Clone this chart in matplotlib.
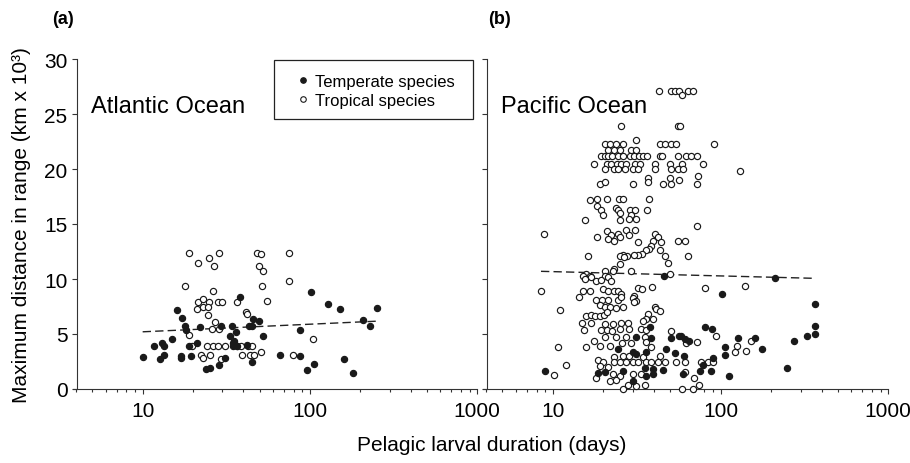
import numpy as np
import matplotlib
matplotlib.use("Agg")
import matplotlib.pyplot as plt
from matplotlib.ticker import LogLocator, NullFormatter, FixedLocator
from matplotlib.lines import Line2D
from matplotlib.patches import Rectangle

plt.rcParams['font.family'] = ['Liberation Sans', 'DejaVu Sans']

# atlantic, tropical species (open circles): pelagic larval duration (days), range (km x 10^3)
atl_trop_pld = [18.9, 21.3, 24.9, 26.7, 28.6, 48.0, 50.9, 49.8, 52.4, 51.6, 75.2, 75.2, 17.8, 26.2,
                21.3, 23.0, 24.9, 28.3, 29.9, 21.2, 23.0, 24.6, 24.6, 36.7, 55.6, 41.3, 42.1, 27.0,
                26.0, 28.6, 18.8, 19.8, 24.3, 26.2, 28.3, 30.9, 36.7, 38.5, 42.8, 44.8, 22.2, 25.3,
                22.8, 29.2, 39.5, 43.8, 46.5, 50.9, 78.8, 103.7]
atl_trop_range = [12.4, 11.5, 11.9, 11.2, 12.4, 12.4, 12.3, 11.2, 10.7, 9.4, 12.4, 9.8, 9.4, 8.9,
                  7.9, 8.2, 7.9, 7.9, 7.9, 7.3, 7.5, 7.5, 6.7, 7.9, 8.0, 7.0, 6.8, 6.1,
                  5.5, 5.5, 4.9, 3.9, 3.9, 3.9, 3.9, 3.9, 3.9, 3.9, 3.9, 3.9, 3.1, 3.1,
                  2.8, 2.7, 3.1, 3.1, 3.1, 3.4, 3.1, 4.55]

# atlantic, temperate species (filled circles)
atl_temp_pld = [10.0, 11.7, 13.1, 13.5, 15.0, 12.7, 13.5, 16.1, 17.1, 17.9, 18.2, 17.0, 17.0, 19.5,
                18.9, 21.0, 22.1, 23.9, 25.2, 28.4, 31.2, 29.4, 33.1, 36.2, 34.1, 34.6, 35.3, 36.5,
                34.5, 38.0, 43.3, 44.8, 45.8, 49.9, 42.3, 45.2, 52.1, 66.1, 87.0, 86.6, 101.1, 105.8,
                96.4, 128.3, 150.6, 252.6, 207.6, 228.5, 159.5, 180.7]
atl_temp_range = [2.9, 3.9, 4.2, 3.9, 4.55, 2.7, 3.1, 7.2, 6.5, 5.7, 5.4, 3.0, 2.8, 3.0,
                  3.9, 4.15, 5.6, 1.8, 1.9, 2.2, 2.8, 5.7, 4.8, 5.15, 5.7, 4.2, 4.4, 3.9,
                  3.9, 8.4, 5.7, 5.7, 6.4, 6.15, 4.0, 2.5, 4.85, 3.05, 3.0, 5.4, 8.8, 2.3,
                  1.75, 7.75, 7.3, 7.4, 6.3, 5.75, 2.7, 1.5]

# pacific, tropical species (open circles)
pac_trop_pld = [43.0, 50.9, 53.3, 56.5, 59.2, 64.0, 68.5, 25.4, 55.7, 57.6,
                20.4, 21.8, 23.7, 26.2, 43.4, 46.4, 50.9, 54.6, 91.4, 31.5,
                21.3, 23.3, 25.2, 29.4, 31.5,
                19.5, 20.4, 21.3, 22.6, 24.5, 26.2, 28.8, 30.3, 32.5, 34.5, 36.4, 43.4, 45.0, 55.7, 62.6, 67.0, 71.9,
                17.7, 20.9, 22.3, 24.1, 25.6, 27.4, 30.8, 33.0, 40.9, 49.8, 59.3, 78.5,
                20.4, 23.0, 24.4, 26.8, 30.0, 32.2, 40.5, 50.9, 55.7, 59.8,
                19.0, 20.6, 30.0, 36.9, 36.9, 45.3, 49.7, 50.9, 56.9, 73.4, 71.9, 129.7,
                18.4, 20.9, 24.8, 26.2, 37.4, 16.6,
                18.3, 19.5, 23.7, 24.5, 29.0, 30.8, 36.4, 19.8, 25.3, 29.4, 15.6, 25.0, 28.4, 31.2,
                8.9, 20.9, 22.3, 24.5, 27.2, 28.6, 30.8, 18.3, 21.3, 23.3, 25.0, 32.2, 40.5, 42.3, 39.6,
                44.2, 55.7, 61.1, 71.9,
                38.7, 37.4, 36.1, 34.2, 32.2, 30.3, 27.7, 26.2, 25.2, 26.7, 16.2, 43.4, 46.4, 48.7, 63.9,
                25.0, 23.3, 20.6, 29.4, 49.7, 15.8, 15.1, 16.6, 17.0, 20.4, 21.3, 22.8, 15.5,
                18.2, 19.5, 22.3, 8.5, 15.1, 16.6, 14.4, 19.9, 21.3, 23.3, 24.5, 25.6, 32.2, 34.2, 39.1,
                30.3, 80.6, 140.0,
                18.2, 19.7, 21.3, 24.5, 25.6, 30.0, 31.5,
                19.0, 20.4, 21.8, 23.7, 26.2, 30.3, 40.5, 41.4, 43.4, 11.1,
                15.8, 16.9, 17.9, 19.0, 20.1, 21.0, 36.9, 36.1, 39.6,
                15.0, 16.9, 20.4, 22.8, 25.6, 28.1, 34.5, 15.3, 19.5, 21.0, 22.6, 25.0, 28.6, 33.7, 36.1, 50.9,
                20.4, 23.9, 27.2, 35.2, 17.7, 19.0, 21.8, 26.0, 29.4, 36.1, 38.7,
                62.6, 72.5, 93.5, 121.6, 125.0, 151.0, 141.0, 76.3, 84.1, 90.0, 61.5, 69.0, 74.5, 68.5, 59.3,
                10.8, 15.8, 12.0, 10.2,
                23.3, 26.2, 28.6, 34.5, 43.4,
                18.5, 19.9, 23.3, 25.0, 27.4, 30.0, 32.2, 36.1, 38.7, 42.3, 46.4, 19.0, 21.3, 54.6, 61.1,
                22.8, 25.0, 30.0, 33.7, 21.8, 23.9, 18.2,
                26.2, 28.1, 31.5, 35.2]
pac_trop_range = [27.1, 27.1, 27.1, 27.1, 26.75, 27.1, 27.1, 23.9, 23.9, 23.9,
                  22.3, 22.3, 22.3, 22.3, 22.3, 22.3, 22.3, 22.3, 22.3, 22.6,
                  21.7, 21.7, 21.7, 21.7, 21.7,
                  21.2, 21.2, 21.2, 21.2, 21.2, 21.2, 21.2, 21.2, 21.2, 21.2, 21.2, 21.2, 21.2, 21.2, 21.2, 21.2, 21.2,
                  20.5, 20.5, 20.5, 20.5, 20.5, 20.5, 20.5, 20.5, 20.5, 20.5, 20.5, 20.5,
                  20.0, 20.0, 20.0, 20.0, 20.0, 20.0, 20.0, 20.0, 20.0, 20.0,
                  18.6, 18.8, 18.6, 19.2, 18.8, 18.6, 19.2, 18.6, 19.0, 19.4, 18.6, 19.8,
                  17.3, 17.3, 17.3, 17.3, 17.3, 17.2,
                  16.6, 16.3, 16.5, 16.3, 16.3, 16.3, 16.3, 15.8, 16.0, 15.8, 15.4, 15.4, 15.5, 15.5,
                  14.1, 14.4, 14.0, 14.1, 14.5, 14.0, 14.5, 13.8, 13.6, 13.5, 13.8, 13.4, 14.1, 13.8, 13.5,
                  13.4, 13.5, 13.5, 14.8,
                  13.0, 12.7, 12.6, 12.3, 12.2, 12.2, 12.1, 12.2, 12.1, 12.0, 12.1, 12.6, 12.1, 11.5, 12.1,
                  11.4, 10.9, 10.75, 10.75, 10.45, 10.5, 10.3, 10.3, 10.15, 10.3, 10.2, 10.7, 10.0,
                  9.8, 9.9, 9.8, 8.9, 8.9, 8.9, 8.4, 9.1, 8.9, 8.9, 8.9, 8.6, 9.2, 9.1, 9.3,
                  8.5, 9.2, 9.4,
                  8.1, 8.1, 8.1, 8.1, 8.4, 8.3, 8.0,
                  7.6, 7.5, 7.5, 7.4, 7.5, 7.9, 7.5, 7.3, 7.1, 7.2,
                  6.6, 6.75, 6.6, 6.6, 6.7, 7.0, 6.8, 6.4, 6.4,
                  5.97, 5.97, 5.9, 5.9, 5.97, 5.97, 6.15, 5.36, 5.36, 5.36, 5.3, 5.45, 5.45, 5.45, 5.36, 5.3,
                  4.7, 4.75, 4.75, 4.75, 4.4, 3.94, 3.94, 4.15, 4.15, 4.24, 3.79,
                  4.15, 4.24, 4.79, 3.39, 3.94, 4.39, 3.45, 2.48, 2.42, 2.42, 1.58, 0.97, 0.36, 0.0, 0.0,
                  3.8, 3.8, 2.2, 1.27,
                  2.94, 3.03, 3.03, 2.94, 3.03,
                  2.64, 2.42, 2.42, 2.42, 2.42, 2.42, 2.42, 2.42, 2.42, 2.42, 2.42, 2.12, 2.03, 2.42, 2.42,
                  1.36, 1.21, 1.36, 1.36, 0.7, 0.82, 0.97,
                  0.0, 0.39, 0.3, 0.39]

# pacific, temperate species (filled circles)
pac_temp_pld = [45.8, 102.6, 211.0, 365.0, 365.0, 365.0, 326.0, 274.0, 249.0, 177.0, 161.5, 127.0,
                106.0, 106.0, 111.6, 80.8, 89.0, 57.7, 61.1, 64.9, 60.4, 90.0, 78.1, 75.5, 87.1, 9.0,
                37.7, 31.5, 38.7, 50.9, 56.9, 24.5, 30.0, 31.5, 36.1, 47.4, 53.3,
                26.2, 35.2, 39.6, 45.3, 18.5, 20.4, 36.1, 39.6, 30.0, 59.8]
pac_temp_range = [10.3, 8.6, 10.06, 7.76, 5.73, 5.0, 4.82, 4.39, 1.94, 3.6, 4.6, 4.6,
                  3.79, 3.12, 1.21, 5.6, 5.5, 4.85, 4.55, 4.39, 2.97, 2.79, 2.18, 1.67, 1.67, 1.64,
                  5.66, 4.75, 4.64, 4.64, 4.85, 3.64, 3.33, 3.18, 3.33, 3.64, 3.24,
                  1.67, 1.9, 1.8, 1.73, 1.42, 1.52, 1.21, 1.36, 0.76, 1.36]

# fitted lines: range = intercept + slope * log10(pld), drawn over pld span
atl_fit = (4.51, 0.69)
atl_fit_span = (10, 252)
pac_fit = (11.06, -0.39)
pac_fit_span = (8.5, 365)

panels = [
    ("Atlantic Ocean", "(a)", atl_trop_pld, atl_trop_range, atl_temp_pld, atl_temp_range, atl_fit, atl_fit_span),
    ("Pacific Ocean", "(b)", pac_trop_pld, pac_trop_range, pac_temp_pld, pac_temp_range, pac_fit, pac_fit_span),
]

W, H = 910, 464
fig = plt.figure(figsize=(W / 100, H / 100), dpi=100)

# axes placed in pixel terms: (left, right) of x axis, y axis spans 390 -> 60
x_spans = [(73.3, 477.3), (483.3, 888.3)]
pt_col = '#1a1a1a'

for i, (name, tag, tx, ty, fx, fy, fit, span) in enumerate(panels):
    l, r = x_spans[i]
    ax = fig.add_axes([l / W, (H - 390) / H, (r - l) / W, 330 / H])
    ax.set_xscale('log')
    ax.set_xlim(3.85, 1000)
    ax.set_ylim(0, 30)

    ax.spines['top'].set_visible(False)
    ax.spines['right'].set_visible(False)
    ax.spines['left'].set_position(('data', 4.03))
    for s in ['left', 'bottom']:
        ax.spines[s].set_linewidth(0.8)
        ax.spines[s].set_color('#333333')

    ax.xaxis.set_major_locator(FixedLocator([10, 100, 1000]))
    ax.xaxis.set_minor_locator(LogLocator(base=10, subs=np.arange(2, 10) * 1.0, numticks=20))
    ax.xaxis.set_minor_formatter(NullFormatter())
    ax.set_xticklabels(['10', '100', '1000'])
    ax.set_yticks([0, 5, 10, 15, 20, 25, 30])
    ax.tick_params(axis='both', which='major', direction='out', length=3.6, width=0.8,
                   color='#333333', labelsize=15, pad=3)
    ax.tick_params(axis='x', which='major', pad=5)
    ax.tick_params(axis='x', which='minor', direction='out', length=2.2, width=0.8, color='#333333')
    if i == 1:
        ax.tick_params(axis='y', labelleft=False)

    # open circles first, filled on top
    ax.scatter(tx, ty, s=20, facecolors='white', edgecolors=pt_col, linewidths=0.85, clip_on=False, zorder=3)
    ax.scatter(fx, fy, s=20, facecolors=pt_col, edgecolors=pt_col, linewidths=0.85, clip_on=False, zorder=4)

    xs = np.array(span, dtype=float)
    ax.plot(xs, fit[0] + fit[1] * np.log10(xs), color='#222222', lw=1.0, dashes=(6, 3), zorder=2)

    ax.text(0.043, 0.84, name, transform=ax.transAxes, fontsize=17, ha='left', va='baseline')
    fig.text((l - 21) / W if i == 0 else (l + 5) / W, (H - 24) / H, tag, fontsize=13,
             fontweight='bold', ha='left', va='baseline')

    if i == 0:
        # legend box
        ax.add_patch(Rectangle((0.4975, 0.818), 0.9886 - 0.4975, 0.997 - 0.818, transform=ax.transAxes,
                               fill=False, edgecolor='#222222', lw=0.9, clip_on=False, zorder=5))
        handles = [Line2D([], [], ls='none', marker='o', ms=4, mfc=pt_col, mec=pt_col, mew=0.8),
                   Line2D([], [], ls='none', marker='o', ms=4, mfc='white', mec=pt_col, mew=0.8)]
        ax.legend(handles, ['Temperate species', 'Tropical species'], loc='upper left',
                  bbox_to_anchor=(0.555, 0.955), frameon=False, fontsize=12, borderpad=0,
                  handlelength=0.7, handletextpad=0.35, labelspacing=0.25, borderaxespad=0)

fig.text(491.5 / W, 13 / H, 'Pelagic larval duration (days)', fontsize=15, ha='center', va='baseline')
fig.text(22 / W, (H - 225) / H, 'Maximum distance in range (km x 10³)', fontsize=15,
         rotation=90, ha='center', va='center')

fig.savefig('out.png', dpi=100)
